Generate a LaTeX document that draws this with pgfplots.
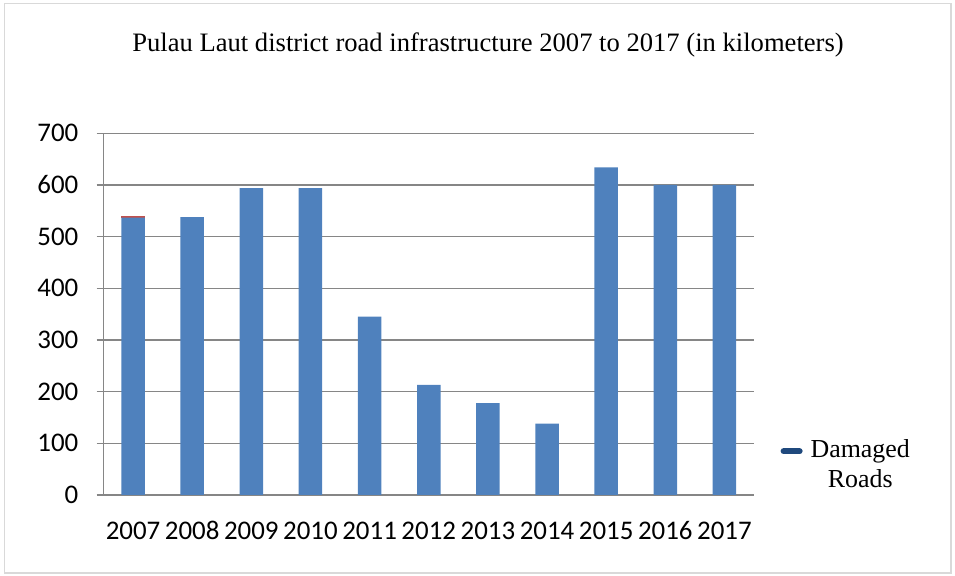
\documentclass[border=0pt]{standalone}
\usepackage{pgfplots}
\pgfplotsset{compat=1.18}
\usepackage{fontspec}
\setmainfont{Liberation Serif}
\newfontfamily\calfont{Carlito}
\definecolor{barblue}{RGB}{79,129,189}
\definecolor{barred}{RGB}{192,80,77}
\definecolor{legblue}{RGB}{31,73,125}
\definecolor{gridgray}{RGB}{134,134,134}
\begin{document}
\begin{tikzpicture}
\useasboundingbox (0,0) rectangle (955bp,576bp);
\draw[color={rgb,255:red,217;green,217;blue,217},line width=1.2bp] (4.5bp,3bp) rectangle (951bp,572.5bp);
\node[font=\fontsize{26.7}{30}\selectfont] at (488bp,576bp-45bp) {Pulau Laut district road infrastructure 2007 to 2017 (in kilometers)};
\begin{axis}[
  at={(103.5bp,81bp)}, anchor=south west,
  scale only axis, width=650.5bp, height=361.7bp,
  ybar stacked, bar width=23.5bp,
  xmin=-0.5, xmax=10.5, ymin=0, ymax=700,
  xtick={0,...,10},
  xticklabels={2007,2008,2009,2010,2011,2012,2013,2014,2015,2016,2017},
  minor xtick={-0.5,0.5,...,10.5},
  ytick={0,100,...,700},
  axis lines=left, axis line style={-, color=gridgray, line width=1.5bp},
  x tick style={draw=none},
  minor x tick style={color=gridgray, line width=1.5bp},
  y tick style={color=gridgray, line width=1.5bp},
  tick align=outside, major tick length=7bp, minor tick length=7bp,
  ymajorgrids, grid style={color=gridgray, line width=1.5bp},
  tick label style={font=\calfont\fontsize{27}{30}\selectfont, inner sep=0pt},
  /pgf/number format/assume math mode=true,
  yticklabel style={xshift=-18bp},
  xticklabel style={anchor=north, text height=17bp, text depth=0bp, yshift=-20bp},
  legend style={at={(1.036,0.085)}, anchor=west, draw=none, fill=none,
    font=\fontsize{26}{30}\selectfont, cells={align=center},
    /tikz/every odd column/.append style={column sep=6bp}},
  legend image code/.code={\draw[legblue, line width=6bp, line cap=round] (3bp,13bp) -- (19bp,13bp);},
]
\addplot[fill=barblue, draw=none] coordinates {(0,537) (1,538) (2,594) (3,594) (4,345) (5,213) (6,178) (7,138) (8,634) (9,600) (10,600)};
\addlegendentry{Damaged\\Roads}
\addplot[fill=barred, draw=none, forget plot] coordinates {(0,3) (1,0) (2,0) (3,0) (4,0) (5,0) (6,0) (7,0) (8,0) (9,0) (10,0)};
\end{axis}
\end{tikzpicture}
\end{document}
